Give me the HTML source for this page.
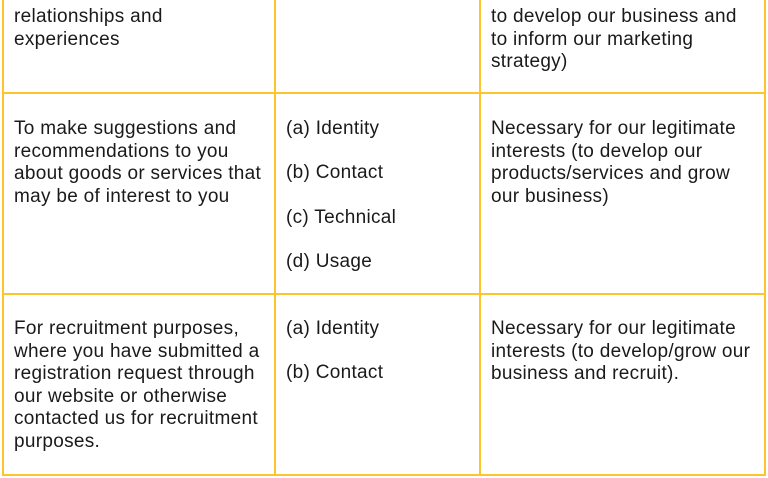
<!DOCTYPE html>
<html><head><meta charset="utf-8"><style>
body{margin:0;width:768px;height:478px;background:#fff;position:relative;overflow:hidden;font-family:"Liberation Sans",Arial,sans-serif;font-size:19px;letter-spacing:0.3px;color:#1a1a1a;line-height:22.5px}
.l{position:absolute;background:#fcc52c}
.t{position:absolute;white-space:nowrap}
</style></head><body>
<div class="l" style="left:2px;top:0;width:2px;height:476px"></div>
<div class="l" style="left:274px;top:0;width:2px;height:476px"></div>
<div class="l" style="left:479px;top:0;width:2px;height:476px"></div>
<div class="l" style="left:764px;top:0;width:2px;height:476px"></div>
<div class="l" style="left:2px;top:92px;width:764px;height:2px"></div>
<div class="l" style="left:2px;top:293px;width:764px;height:2px"></div>
<div class="l" style="left:2px;top:474px;width:764px;height:2px"></div>

<div class="t" style="left:14px;top:6px">relationships and<br>experiences</div>
<div class="t" style="left:491px;top:6px">to develop our business and<br>to inform our marketing<br>strategy)</div>

<div class="t" style="left:14px;top:118px">To make suggestions and<br>recommendations to you<br>about goods or services that<br>may be of interest to you</div>
<div class="t" style="left:286px;top:118px">(a) Identity</div>
<div class="t" style="left:286px;top:162px">(b) Contact</div>
<div class="t" style="left:286px;top:207px">(c) Technical</div>
<div class="t" style="left:286px;top:251px">(d) Usage</div>
<div class="t" style="left:491px;top:118px">Necessary for our legitimate<br>interests (to develop our<br>products/services and grow<br>our business)</div>

<div class="t" style="left:14px;top:318px">For recruitment purposes,<br>where you have submitted a<br>registration request through<br>our website or otherwise<br>contacted us for recruitment<br>purposes.</div>
<div class="t" style="left:286px;top:318px">(a) Identity</div>
<div class="t" style="left:286px;top:362px">(b) Contact</div>
<div class="t" style="left:491px;top:318px">Necessary for our legitimate<br>interests (to develop/grow our<br>business and recruit).</div>
</body></html>
